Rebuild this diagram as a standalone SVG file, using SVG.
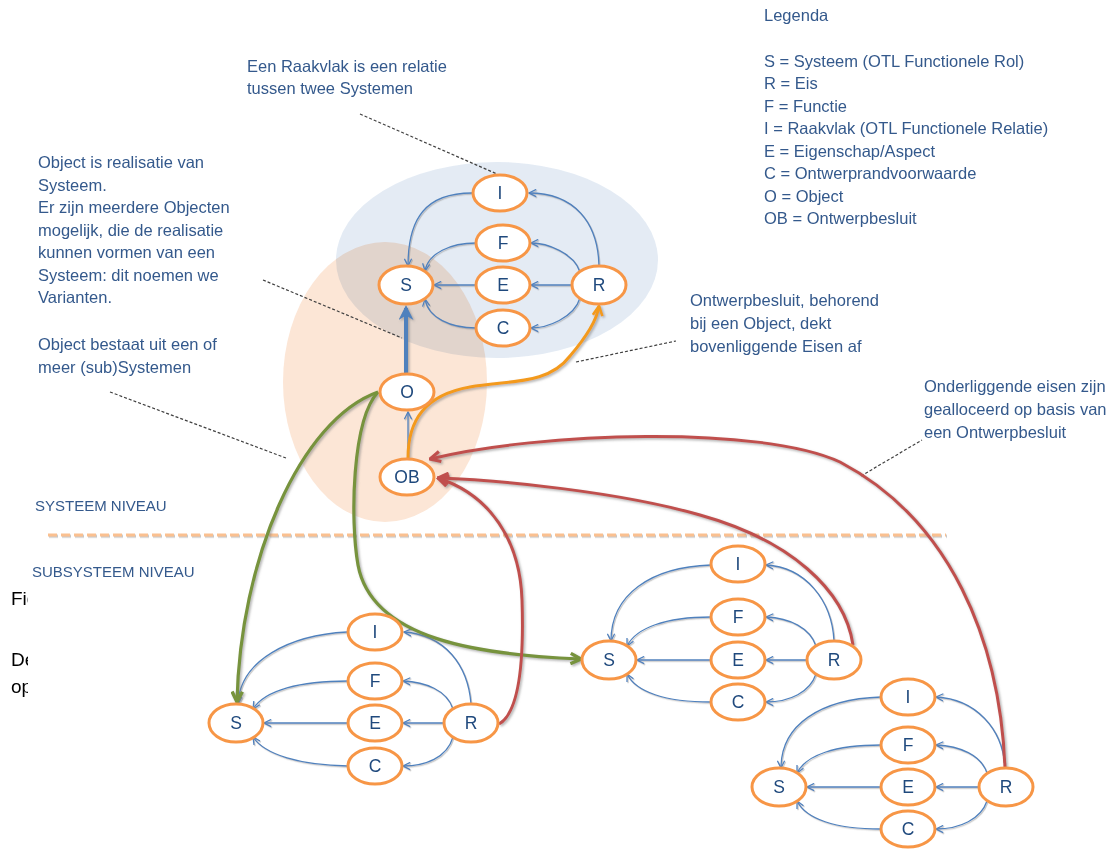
<svg xmlns="http://www.w3.org/2000/svg" width="1120" height="849" viewBox="0 0 1120 849">
<defs>
<style>
.txt{font-family:"Liberation Sans",Arial,sans-serif;font-size:16.5px;fill:#34598c}
.lvl{font-family:"Liberation Sans",Arial,sans-serif;font-size:15px;fill:#34598c}
.blk{font-family:"Liberation Sans",Arial,sans-serif;font-size:19px;fill:#000}
.node ellipse{fill:#fff;stroke:#f79646;stroke-width:3}
.node text{font-family:"Liberation Sans",Arial,sans-serif;font-size:17.5px;fill:#1f497d;text-anchor:middle}
.thin{fill:none;stroke:#4f81bd;stroke-width:1.3;marker-end:url(#mb)}
.call{fill:none;stroke:#404040;stroke-width:1.2;stroke-dasharray:3 2}
.red{fill:none;stroke:#c0504d;stroke-width:3;marker-end:url(#mr)}
.green{fill:none;stroke:#77933c;stroke-width:3.2;marker-end:url(#mg)}
</style>
<filter id="sh" filterUnits="userSpaceOnUse" x="0" y="0" width="1120" height="849">
<feDropShadow dx="1.5" dy="1.5" stdDeviation="0.8" flood-color="#7f7f7f" flood-opacity="0.6"/>
</filter>
<filter id="shl" filterUnits="userSpaceOnUse" x="0" y="0" width="1120" height="849">
<feDropShadow dx="1" dy="1.2" stdDeviation="0.6" flood-color="#8c8c8c" flood-opacity="0.5"/>
</filter>
<marker id="mb" viewBox="0 0 10 10" refX="9" refY="5" markerWidth="9" markerHeight="9" markerUnits="userSpaceOnUse" orient="auto">
<path d="M1,1 L9,5 L1,9" fill="none" stroke="#4f81bd" stroke-width="1.4"/>
</marker>
<marker id="mB" viewBox="0 0 10 10" refX="8" refY="5" markerWidth="15" markerHeight="15" markerUnits="userSpaceOnUse" orient="auto">
<path d="M0,0 L10,5 L0,10 L3,5 z" fill="#4f81bd"/>
</marker>
<marker id="mo" viewBox="0 0 10 10" refX="9" refY="5" markerWidth="12" markerHeight="12" markerUnits="userSpaceOnUse" orient="auto">
<path d="M1,1 L9,5 L1,9" fill="none" stroke="#f39a1e" stroke-width="2.2"/>
</marker>
<marker id="mg" viewBox="0 0 10 10" refX="9" refY="5" markerWidth="13" markerHeight="13" markerUnits="userSpaceOnUse" orient="auto">
<path d="M1,1 L9,5 L1,9" fill="none" stroke="#77933c" stroke-width="2.6"/>
</marker>
<marker id="mr" viewBox="0 0 10 10" refX="9" refY="5" markerWidth="13" markerHeight="13" markerUnits="userSpaceOnUse" orient="auto">
<path d="M1,1 L9,5 L1,9" fill="none" stroke="#c0504d" stroke-width="2.4"/>
</marker>
<clipPath id="cut"><rect x="0" y="560" width="28" height="160"/></clipPath>
</defs>

<rect x="0" y="0" width="1120" height="849" fill="#fff"/>

<g id="partial-text" clip-path="url(#cut)">
<text class="blk" x="11" y="605">Figuur</text>
<text class="blk" x="11" y="666">De</text>
<text class="blk" x="11" y="693">op</text>
</g>

<g id="backgrounds">
<ellipse cx="385" cy="382" rx="102" ry="140" fill="#fce6d6"/>
<ellipse cx="497" cy="260" rx="161" ry="98" fill="#dbe5f1" opacity="0.75" style="mix-blend-mode:multiply"/>
</g>

<g id="separator" filter="url(#shl)">
<line x1="48" y1="535" x2="946" y2="535" stroke="#fac090" stroke-width="3" stroke-dasharray="9 4"/>
</g>

<g id="labels">
<text class="txt" x="764" y="21">Legenda</text>
<text class="txt" x="764" y="67">S = Systeem (OTL Functionele Rol)</text>
<text class="txt" x="764" y="89">R = Eis</text>
<text class="txt" x="764" y="112">F = Functie</text>
<text class="txt" x="764" y="134">I = Raakvlak (OTL Functionele Relatie)</text>
<text class="txt" x="764" y="157">E = Eigenschap/Aspect</text>
<text class="txt" x="764" y="179">C = Ontwerprandvoorwaarde</text>
<text class="txt" x="764" y="202">O = Object</text>
<text class="txt" x="764" y="224">OB = Ontwerpbesluit</text>

<text class="txt" x="247" y="72">Een Raakvlak is een relatie</text>
<text class="txt" x="247" y="94">tussen twee Systemen</text>

<text class="txt" x="38" y="168">Object is realisatie van</text>
<text class="txt" x="38" y="191">Systeem.</text>
<text class="txt" x="38" y="213">Er zijn meerdere Objecten</text>
<text class="txt" x="38" y="236">mogelijk, die de realisatie</text>
<text class="txt" x="38" y="258">kunnen vormen van een</text>
<text class="txt" x="38" y="281">Systeem: dit noemen we</text>
<text class="txt" x="38" y="303">Varianten.</text>
<text class="txt" x="38" y="350">Object bestaat uit een of</text>
<text class="txt" x="38" y="373">meer (sub)Systemen</text>

<text class="txt" x="690" y="306">Ontwerpbesluit, behorend</text>
<text class="txt" x="690" y="329">bij een Object, dekt</text>
<text class="txt" x="690" y="352">bovenliggende Eisen af</text>

<text class="txt" x="924" y="392">Onderliggende eisen zijn</text>
<text class="txt" x="924" y="415">gealloceerd op basis van</text>
<text class="txt" x="924" y="438">een Ontwerpbesluit</text>

<text class="lvl" x="35" y="511">SYSTEEM NIVEAU</text>
<text class="lvl" x="32" y="577">SUBSYSTEEM NIVEAU</text>
</g>

<g id="connectors">
<g id="callouts">
<path class="call" d="M360,114 L497,174"/>
<path class="call" d="M263,280 L402,338"/>
<path class="call" d="M110,392 L286,458"/>
<path class="call" d="M576,362 L676,341"/>
<path class="call" d="M861,476 L922,440"/>
</g>
<g id="thin-arrows" filter="url(#shl)">
<path class="thin" d="M472,193 C426,193 408,218 408,266"/>
<path class="thin" d="M599,266 C598,222 574,193 529,193"/>
<path class="thin" d="M476,243 C451,243 428,253 425,271"/>
<path class="thin" d="M580,272 C574,253 547,243 531,243"/>
<path class="thin" d="M476,285 L434,285"/>
<path class="thin" d="M572,285 L531,285"/>
<path class="thin" d="M476,328 C451,328 428,318 425,299"/>
<path class="thin" d="M580,298 C574,318 547,328 531,328"/>
<path class="thin" d="M408,459 L408,412"/>

<path class="thin" d="M347,632 C290,635 240,660 238,704"/>
<path class="thin" d="M471,704 C468,665 445,635 404,632"/>
<path class="thin" d="M348,681 C300,681 265,690 253,709"/>
<path class="thin" d="M453,709 C447,690 425,682 403,681"/>
<path class="thin" d="M348,723 L264,723"/>
<path class="thin" d="M444,723 L403,723"/>
<path class="thin" d="M348,766 C300,765 265,755 253,737"/>
<path class="thin" d="M453,737 C447,758 425,766 403,766"/>

<path class="thin" d="M711,565 C650,567 611,595 611,641"/>
<path class="thin" d="M834,641 C832,600 805,567 766,565"/>
<path class="thin" d="M711,617 C665,617 636,628 627,646"/>
<path class="thin" d="M816,646 C810,628 790,618 766,617"/>
<path class="thin" d="M711,660 L637,660"/>
<path class="thin" d="M807,660 L766,660"/>
<path class="thin" d="M711,702 C665,702 636,692 627,674"/>
<path class="thin" d="M816,674 C810,692 790,702 766,702"/>

<path class="thin" d="M881,697 C820,699 781,725 781,768"/>
<path class="thin" d="M1005,768 C1003,728 975,699 936,697"/>
<path class="thin" d="M881,745 C835,745 806,755 797,773"/>
<path class="thin" d="M987,773 C981,755 960,746 936,745"/>
<path class="thin" d="M881,787 L807,787"/>
<path class="thin" d="M978,787 L936,787"/>
<path class="thin" d="M881,829 C835,829 806,819 797,801"/>
<path class="thin" d="M987,801 C981,819 960,829 936,829"/>
</g>
<g id="thick-arrows" filter="url(#sh)">
<path d="M406,373 L406,308" fill="none" stroke="#4f81bd" stroke-width="4" marker-end="url(#mB)"/>
<path d="M408,458 C408,420 425,395 470,387 C510,380 548,385 570,356 C588,335 597,320 599,306" fill="none" stroke="#f39a1e" stroke-width="3" marker-end="url(#mo)"/>
<path class="green" d="M378,392 C300,420 240,560 237,702"/>
<path class="green" d="M378,392 C352,420 350,520 358,565 C372,640 480,655 581,659"/>
<path class="red" d="M499,724 C520,712 524,660 522,600 C520,540 490,495 438,478"/>
<path class="red" d="M853,645 C845,590 790,540 700,515 C620,492 500,480 438,478"/>
<path class="red" d="M1005,768 C1000,640 950,520 840,462 C760,425 540,432 430,459"/>
</g>
</g>

<g id="n-S" class="node"><ellipse cx="406" cy="285" rx="27" ry="19"/><text x="406" y="291">S</text></g>
<g id="n-I" class="node"><ellipse cx="500" cy="193" rx="27" ry="18"/><text x="500" y="199">I</text></g>
<g id="n-F" class="node"><ellipse cx="503" cy="243" rx="27" ry="18"/><text x="503" y="249">F</text></g>
<g id="n-E" class="node"><ellipse cx="503" cy="285" rx="27" ry="18"/><text x="503" y="291">E</text></g>
<g id="n-C" class="node"><ellipse cx="503" cy="328" rx="27" ry="18"/><text x="503" y="334">C</text></g>
<g id="n-R" class="node"><ellipse cx="599" cy="285" rx="27" ry="19"/><text x="599" y="291">R</text></g>
<g id="n-O" class="node"><ellipse cx="407" cy="392" rx="27" ry="18"/><text x="407" y="398">O</text></g>
<g id="n-OB" class="node"><ellipse cx="407" cy="477" rx="27" ry="18"/><text x="407" y="483">OB</text></g>

<g id="n1-S" class="node"><ellipse cx="236" cy="723" rx="27" ry="19"/><text x="236" y="729">S</text></g>
<g id="n1-I" class="node"><ellipse cx="375" cy="632" rx="27" ry="18"/><text x="375" y="638">I</text></g>
<g id="n1-F" class="node"><ellipse cx="375" cy="681" rx="27" ry="18"/><text x="375" y="687">F</text></g>
<g id="n1-E" class="node"><ellipse cx="375" cy="723" rx="27" ry="18"/><text x="375" y="729">E</text></g>
<g id="n1-C" class="node"><ellipse cx="375" cy="766" rx="27" ry="18"/><text x="375" y="772">C</text></g>
<g id="n1-R" class="node"><ellipse cx="471" cy="723" rx="27" ry="19"/><text x="471" y="729">R</text></g>

<g id="n2-S" class="node"><ellipse cx="609" cy="660" rx="27" ry="19"/><text x="609" y="666">S</text></g>
<g id="n2-I" class="node"><ellipse cx="738" cy="564" rx="27" ry="18"/><text x="738" y="570">I</text></g>
<g id="n2-F" class="node"><ellipse cx="738" cy="617" rx="27" ry="18"/><text x="738" y="623">F</text></g>
<g id="n2-E" class="node"><ellipse cx="738" cy="660" rx="27" ry="18"/><text x="738" y="666">E</text></g>
<g id="n2-C" class="node"><ellipse cx="738" cy="702" rx="27" ry="18"/><text x="738" y="708">C</text></g>
<g id="n2-R" class="node"><ellipse cx="834" cy="660" rx="27" ry="19"/><text x="834" y="666">R</text></g>

<g id="n3-S" class="node"><ellipse cx="779" cy="787" rx="27" ry="19"/><text x="779" y="793">S</text></g>
<g id="n3-I" class="node"><ellipse cx="908" cy="697" rx="27" ry="18"/><text x="908" y="703">I</text></g>
<g id="n3-F" class="node"><ellipse cx="908" cy="745" rx="27" ry="18"/><text x="908" y="751">F</text></g>
<g id="n3-E" class="node"><ellipse cx="908" cy="787" rx="27" ry="18"/><text x="908" y="793">E</text></g>
<g id="n3-C" class="node"><ellipse cx="908" cy="829" rx="27" ry="18"/><text x="908" y="835">C</text></g>
<g id="n3-R" class="node"><ellipse cx="1006" cy="787" rx="27" ry="19"/><text x="1006" y="793">R</text></g>
</svg>
